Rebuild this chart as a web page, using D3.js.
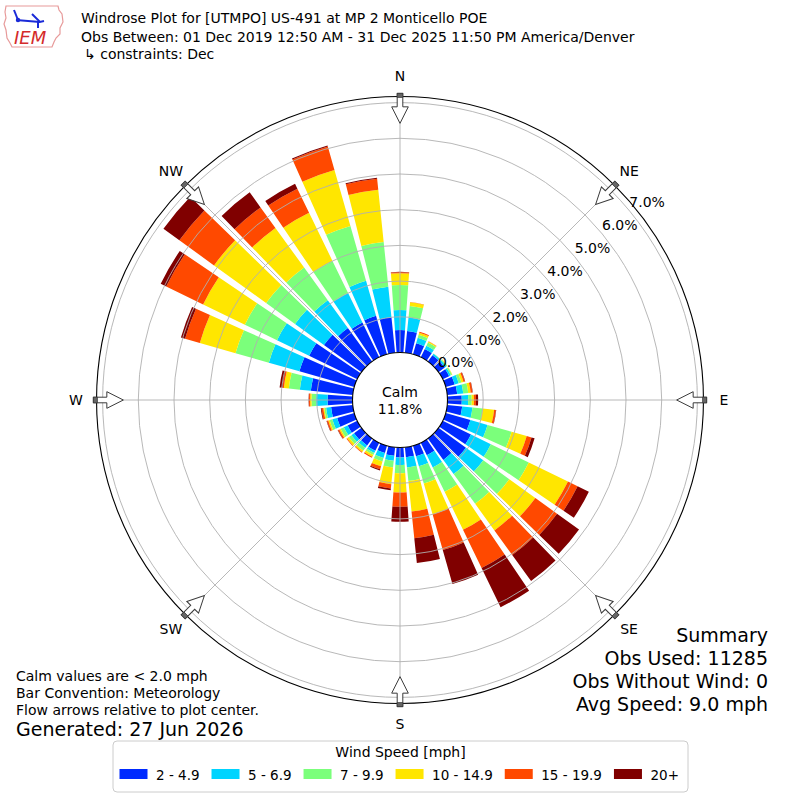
<!DOCTYPE html>
<html><head><meta charset="utf-8">
<script src="https://cdn.jsdelivr.net/npm/d3@7"></script>
<style>
body{margin:0;background:#fff}
svg{display:block}
text{font-family:"DejaVu Sans",Verdana,sans-serif;fill:#000}
</style>
</head><body>
<svg id="chart" width="800" height="800"></svg>
<script>
// ---------------- DATA ----------------
const directions = [0,10,20,30,40,50,60,70,80,90,100,110,120,130,140,150,160,170,
                    180,190,200,210,220,230,240,250,260,270,280,290,300,310,320,330,340,350];
const speedBins  = ["2 - 4.9","5 - 6.9","7 - 9.9","10 - 14.9","15 - 19.9","20+"];
const binColors  = ["#002aff","#00d4ff","#7bff7b","#ffe600","#ff4900","#800000"];

// percent frequency per direction for each speed bin
const bin2to5   = [0.63,0.61,0.32,0.26,0.22,0.22,0.20,0.26,0.28,0.40,0.42,0.72,0.88,0.95,0.74,0.39,0.31,0.28,
                   0.28,0.24,0.21,0.25,0.24,0.26,0.30,0.50,0.61,0.70,1.18,1.60,1.50,1.30,1.16,1.08,1.12,1.00];
const bin5to7   = [0.56,0.38,0.16,0.10,0.05,0.05,0.05,0.12,0.17,0.18,0.29,0.50,0.62,0.60,0.49,0.38,0.29,0.29,
                   0.21,0.14,0.15,0.07,0.09,0.09,0.12,0.14,0.14,0.32,0.31,0.89,1.00,1.00,0.96,0.92,1.02,0.86];
const bin7to10  = [0.70,0.33,0.09,0.10,0.01,0.03,0.04,0.08,0.14,0.10,0.29,0.70,1.18,0.90,1.03,0.76,0.50,0.38,
                   0.23,0.19,0.10,0.06,0.09,0.09,0.10,0.08,0.05,0.13,0.31,0.97,1.00,1.00,1.13,1.00,1.60,1.26];
const bin10to15 = [0.33,0.10,0.06,0.03,0.00,0.01,0.01,0.06,0.07,0.06,0.32,0.44,1.22,0.90,0.92,1.18,0.90,0.86,
                   0.54,0.47,0.14,0.06,0.05,0.06,0.04,0.04,0.03,0.04,0.14,1.04,1.30,1.80,1.37,1.50,1.63,1.47];
const bin15to20 = [0.03,0.01,0.03,0.01,0.00,0.00,0.00,0.04,0.05,0.06,0.05,0.14,0.30,0.75,0.85,1.19,1.04,0.75,
                   0.40,0.12,0.09,0.03,0.02,0.02,0.04,0.04,0.05,0.03,0.04,0.43,1.15,1.20,0.71,0.75,0.68,0.31];
const bin20plus = [0.01,0.00,0.00,0.00,0.00,0.00,0.00,0.01,0.01,0.06,0.01,0.09,0.35,0.76,0.90,1.22,0.99,0.70,
                   0.42,0.05,0.03,0.00,0.00,0.00,0.01,0.01,0.02,0.01,0.08,0.12,0.17,0.55,0.52,0.15,0.03,0.03];

const ringTicks      = [0,1,2,3,4,5,6,7];
const compassLabels  = ["N","NE","E","SE","S","SW","W","NW"];
const compassAngles  = [0,45,90,135,180,225,270,315];
const calmPct        = 11.8;
const titleLines     = ["Windrose Plot for [UTMPO] US-491 at MP 2 Monticello POE",
                        "Obs Between: 01 Dec 2019 12:50 AM - 31 Dec 2025 11:50 PM America/Denver",
                        "\u21b3 constraints: Dec"];
const noteLines      = ["Calm values are < 2.0 mph","Bar Convention: Meteorology","Flow arrows relative to plot center."];
const generatedText  = "Generated: 27 Jun 2026";
const summaryLines   = ["Summary","Obs Used: 11285","Obs Without Wind: 0","Avg Speed: 9.0 mph"];
const legendTitle    = "Wind Speed [mph]";

// ---------------- DRAW ----------------
const svg = d3.select("#chart");
const cx = 400, cy = 400;
const rScale = d3.scaleLinear().domain([0,7]).range([47.5,297.4]);
const rMax = 7.17;
const rad = d => d*Math.PI/180;
const barHalf = 4.1;

const keys = ["b0","b1","b2","b3","b4","b5"];
const series = [bin2to5,bin5to7,bin7to10,bin10to15,bin15to20,bin20plus];
const rows = directions.map((d,i)=>{const o={dir:d}; keys.forEach((k,j)=>o[k]=series[j][i]); return o;});
const stacked = d3.stack().keys(keys)(rows);

const g = svg.append("g").attr("transform",`translate(${cx},${cy})`);
const arc = d3.arc();

// bars
stacked.forEach((s,j)=>{
  g.append("g").selectAll("path").data(s).join("path")
    .attr("d",d=>arc({innerRadius:rScale(d[0]),outerRadius:rScale(d[1]),
                      startAngle:rad(d.data.dir-barHalf),endAngle:rad(d.data.dir+barHalf)}))
    .attr("fill",binColors[j]);
});

// grid (on top of bars)
const grid = g.append("g").attr("fill","none").attr("stroke","#b0b0b0").attr("stroke-width",0.9);
grid.selectAll("circle").data(ringTicks.slice(1)).join("circle").attr("r",d=>rScale(d));
grid.selectAll("line").data(compassAngles).join("line")
  .attr("x1",0).attr("y1",0)
  .attr("x2",d=>rScale(rMax)*Math.sin(rad(d))).attr("y2",d=>-rScale(rMax)*Math.cos(rad(d)));

// frame
g.append("circle").attr("r",rScale(rMax)).attr("fill","none").attr("stroke","#000").attr("stroke-width",1.1);

// ring labels
const labAng = rad(50);
g.selectAll("text.rl").data(ringTicks).join("text").attr("class","rl")
  .attr("x",d=>rScale(d)*Math.sin(labAng)+1.5)
  .attr("y",d=>-rScale(d)*Math.cos(labAng)-2)
  .attr("font-size",14).text(d=>d.toFixed(1)+"%");

// calm circle
g.append("circle").attr("r",rScale(0)).attr("fill","#fff").attr("stroke","#000").attr("stroke-width",1.1);
g.append("text").attr("x",0).attr("y",-3).attr("text-anchor","middle").attr("font-size",14).text("Calm");
g.append("text").attr("x",0).attr("y",14).attr("text-anchor","middle").attr("font-size",14).text(calmPct.toFixed(1)+"%");

// flow arrows
const aOut = rScale(rMax)+3.2, aMid = aOut-13.5, aTip = aOut-30, sw = 2.8, hw = 8.3;
const arrows = g.append("g");
compassAngles.forEach(a=>{
  const ag = arrows.append("g").attr("transform",`rotate(${a})`);
  ag.append("path")
    .attr("d",`M${-sw},${-aOut} L${-sw},${-aMid} L${-hw},${-aMid} L0,${-aTip} L${hw},${-aMid} L${sw},${-aMid} L${sw},${-aOut} Z`)
    .attr("fill","#fff").attr("stroke","#3a3a3a").attr("stroke-width",1);
  ag.append("rect").attr("x",-sw).attr("y",-aOut).attr("width",2*sw).attr("height",4)
    .attr("fill","#666").attr("stroke","#3a3a3a").attr("stroke-width",0.8);
});

// compass labels
g.selectAll("text.cl").data(compassLabels).join("text").attr("class","cl")
  .attr("x",(d,i)=>324*Math.sin(rad(compassAngles[i])))
  .attr("y",(d,i)=>-324*Math.cos(rad(compassAngles[i])))
  .attr("text-anchor","middle").attr("dominant-baseline","central").attr("font-size",14).text(d=>d);

// title
svg.selectAll("text.tt").data(titleLines).join("text").attr("class","tt")
  .attr("x",(d,i)=>i===2?84:81).attr("y",(d,i)=>[23,42,59][i]).attr("font-size",14).text(d=>d);

// logo
const logo = svg.append("g");
logo.append("path")
  .attr("d","M6,6 L58,6 L59,10 L62,14 L63,22 L60,28 L60,34 L56,38 L54,42 L52,47 L12,47 L10,43 L7,38 L6,30 L4,24 L6,18 L5,12 Z")
  .attr("fill","#fff").attr("stroke","#e79a9a").attr("stroke-width",1.2);
logo.append("g").attr("stroke","#1a2ad8").attr("stroke-width",2).attr("fill","none")
  .call(s=>{
    s.append("path").attr("d","M16,20 L40,22");
    s.append("path").attr("d","M14,10 L18,20");
    s.append("path").attr("d","M32,14 L40,22 L44,21");
    s.append("path").attr("d","M38,22 L38,28");
  });
logo.append("circle").attr("cx",18).attr("cy",20).attr("r",2.2).attr("fill","#1a2ad8");
logo.append("text").attr("x",14).attr("y",44).attr("font-family","Liberation Serif,serif")
  .attr("font-style","italic").attr("font-size",18).style("fill","#d42a2a").text("IEM");

// notes bottom-left
svg.selectAll("text.nl").data(noteLines).join("text").attr("class","nl")
  .attr("x",16).attr("y",(d,i)=>681+i*17).attr("font-size",14).text(d=>d);
svg.append("text").attr("x",16).attr("y",736).attr("font-size",19).text(generatedText);

// summary
svg.selectAll("text.sm").data(summaryLines).join("text").attr("class","sm")
  .attr("x",768).attr("y",(d,i)=>641.5+i*23.3).attr("text-anchor","end").attr("font-size",19).text(d=>d);

// legend
svg.append("rect").attr("x",113).attr("y",741).attr("width",575).attr("height",51).attr("rx",4)
  .attr("fill","#fff").attr("stroke","#cccccc").attr("stroke-width",1);
svg.append("text").attr("x",400.5).attr("y",757).attr("text-anchor","middle").attr("font-size",14).text(legendTitle);
let lx = 119.5;
speedBins.forEach((b,i)=>{
  svg.append("rect").attr("x",lx).attr("y",769).attr("width",28).attr("height",10).attr("fill",binColors[i]);
  const t = svg.append("text").attr("x",lx+36.5).attr("y",779.5).attr("font-size",13.5).text(b);
  lx = lx + 36.5 + t.node().getComputedTextLength() + 12;
});
</script>
</body></html>
